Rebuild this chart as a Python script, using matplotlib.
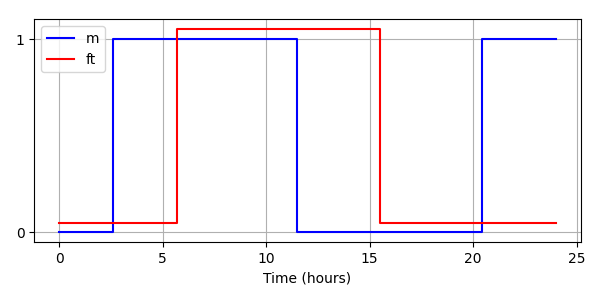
import matplotlib
matplotlib.use("Agg")
import matplotlib.pyplot as plt

# step change times (hours) and levels
m_times = [0, 2.62, 11.5, 20.42, 24]
m_values = [0, 1, 0, 1, 1]

ft_times = [0, 5.7, 15.5, 24]
ft_values = [0.05, 1.05, 0.05, 0.05]

fig, ax = plt.subplots(figsize=(6, 3), dpi=100)
ax.step(m_times, m_values, where="post", color="blue", label="m")
ax.step(ft_times, ft_values, where="post", color="red", label="ft")

ax.set_yticks([0, 1])
ax.set_xlabel("Time (hours)")
ax.grid(True)
ax.legend(loc="upper left")

fig.subplots_adjust(left=0.057, right=0.968, top=0.936, bottom=0.192)
fig.savefig("out.png")
